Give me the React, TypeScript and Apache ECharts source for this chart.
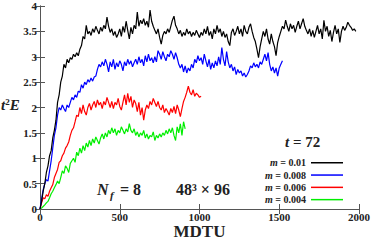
import React, { useEffect, useRef } from "react";
import * as echarts from "echarts";

const STEP = 10; // MDTU between measurements
const masses = ["0.01", "0.008", "0.006", "0.004"];
const colors = ["#000000", "#0000ff", "#ff0000", "#00ee00"];

const m001 = [
  0, 0.15, 0.35, 0.5, 0.72, 0.85, 1.05, 1.15, 1.4, 1.55,
  1.75, 2.1, 2.25, 2.5, 2.62, 2.85, 2.78, 2.95, 2.88, 2.98,
  2.95, 3.05, 3.0, 3.08, 3.02, 3.15, 3.22, 3.4, 3.35, 3.62,
  3.45, 3.5, 3.42, 3.55, 3.48, 3.6, 3.52, 3.45, 3.58, 3.5,
  3.62, 3.55, 3.78, 3.6, 3.48, 3.55, 3.42, 3.5, 3.38, 3.45,
  3.55, 3.4, 3.6, 3.48, 3.7, 3.52, 3.35, 3.58, 3.45, 3.62,
  3.55, 3.88, 3.6, 3.72, 3.65, 3.75, 3.62, 3.7, 3.58, 3.92,
  3.7, 3.6, 3.52, 3.45, 3.55, 3.38, 3.25, 3.42, 3.5, 3.45,
  3.55, 3.48, 3.6, 3.72, 3.8, 3.62, 3.55, 3.45, 3.52, 3.4,
  3.48, 3.42, 3.55, 3.45, 3.5, 3.4, 3.48, 3.42, 3.52, 3.45,
  3.38, 3.48, 3.42, 3.55, 3.45, 3.6, 3.42, 3.5, 3.35, 3.55,
  3.45, 3.62, 3.48, 3.55, 3.4, 3.5, 3.38, 3.45, 3.3, 3.22,
  3.48, 3.55, 3.42, 3.5, 3.6, 3.45, 3.55, 3.4, 3.62, 3.5,
  3.45, 3.58, 3.65, 3.5, 3.38, 3.3, 3.15, 2.98, 3.2, 3.35,
  3.5, 3.4, 3.55, 3.35, 3.25, 3.45, 3.3, 3.2, 3.02, 3.28,
  3.4, 3.5, 3.6, 3.55, 3.72, 3.6, 3.5, 3.65, 3.55, 3.62,
  3.48, 3.6, 3.7, 3.55, 3.65, 3.75, 3.6, 3.52, 3.45, 3.55,
  3.4, 3.52, 3.38, 3.5, 3.62, 3.45, 3.55, 3.35, 3.72, 3.5,
  3.6, 3.4, 3.52, 3.3, 3.48, 3.62, 3.45, 3.55, 3.28, 3.5,
  3.6, 3.52, 3.58, 3.68, 3.62, 3.58, 3.52, 3.55, 3.5,
];

const m0008 = [
  0, 0.2, 0.38, 0.5, 0.58, 0.55, 0.75, 0.95, 1.2, 1.45,
  1.6, 1.85, 2.0, 1.95, 2.05, 1.98, 1.92, 2.05, 2.0, 2.1,
  2.2, 2.15, 2.25, 2.2, 2.32, 2.3, 2.45, 2.38, 2.5, 2.45,
  2.55, 2.5, 2.58, 2.52, 2.6, 2.62, 2.75, 2.85, 2.8, 2.9,
  2.82, 2.95, 2.85, 2.7, 2.9, 2.8, 2.95, 2.75, 2.88, 2.8,
  2.92, 2.85, 2.72, 2.9, 2.82, 2.95, 2.85, 2.92, 2.8, 2.88,
  2.95, 2.85, 3.0, 2.88, 2.95, 2.82, 3.02, 2.9, 3.05, 2.92,
  2.98, 2.88, 3.0, 2.9, 3.12, 3.05, 2.95, 3.1, 3.0, 2.92,
  3.05, 3.0, 3.12, 3.05, 2.95, 3.08, 2.98, 2.85, 2.78, 2.85,
  2.7, 2.82, 2.68, 2.78, 2.72, 2.85, 2.78, 2.95, 2.88, 3.02,
  2.92, 2.98, 2.85, 3.05, 2.92, 2.8, 2.95, 2.75, 2.88, 2.78,
  2.92, 2.82, 3.0, 2.85, 3.18, 2.95, 2.82, 3.1, 2.9, 2.78,
  2.85, 2.72, 2.8, 2.65, 2.75, 2.68, 2.72, 2.62, 2.68, 2.6,
  2.65, 2.72, 2.82, 2.78, 2.88, 2.8, 2.85, 2.78, 2.9, 2.85,
  2.95, 3.05, 2.92, 3.08, 2.85, 2.72, 2.8, 2.68, 2.78, 2.62,
  2.78, 2.85, 2.92,
];

const m0006 = [
  0, 0.12, 0.22, 0.2, 0.28, 0.25, 0.35, 0.42, 0.48, 0.62,
  0.7, 0.78, 0.92, 0.95, 1.05, 1.1, 1.2, 1.25, 1.32, 1.45,
  1.55, 1.6, 1.72, 1.85, 1.82, 2.0, 1.88, 2.05, 1.92, 1.85,
  2.0, 2.08, 1.95, 2.05, 2.12, 2.0, 2.15, 2.05, 2.1, 1.98,
  2.12, 2.05, 2.2, 2.1, 2.0, 2.12, 1.98, 2.1, 2.05, 2.18,
  2.02, 1.95, 2.1, 2.25, 2.05, 2.28, 2.1, 2.22, 2.0, 2.15,
  2.08, 1.92, 2.1, 1.85, 2.0, 1.75, 1.95, 2.05, 1.98, 2.12,
  2.05, 2.18, 2.1, 2.02, 2.12, 2.0, 1.95, 2.05, 1.9, 1.98,
  1.92, 1.85, 1.98, 1.9, 2.02, 1.88, 2.05, 1.95, 1.82, 1.98,
  2.12, 2.2, 2.3, 2.42, 2.3, 2.25, 2.35, 2.22, 2.28, 2.25,
  2.2, 2.22,
];

const m0004 = [
  0, 0.02, 0.05, 0.08, 0.12, 0.15, 0.22, 0.3, 0.35, 0.42,
  0.48, 0.55, 0.5, 0.62, 0.75, 0.7, 0.85, 0.8, 0.72, 0.9,
  0.95, 1.0, 0.92, 1.12, 1.05, 1.2, 1.1, 1.25, 1.15, 1.3,
  1.22, 1.35, 1.25, 1.38, 1.3, 1.42, 1.35, 1.28, 1.4, 1.48,
  1.38, 1.5, 1.42, 1.55, 1.48, 1.6, 1.5, 1.58, 1.45, 1.55,
  1.5, 1.62, 1.55, 1.48, 1.58, 1.52, 1.68, 1.55, 1.5, 1.58,
  1.45, 1.52, 1.42, 1.5, 1.45, 1.55, 1.4, 1.48, 1.38, 1.45,
  1.42, 1.52, 1.35, 1.45, 1.4, 1.48, 1.42, 1.5, 1.45, 1.55,
  1.48, 1.58, 1.5, 1.6, 1.45, 1.35, 1.62, 1.5, 1.68, 1.45,
  1.72, 1.58,
];

const seriesValues = [m001, m0008, m0006, m0004];
const SERIF = "'Liberation Serif', 'DejaVu Serif', serif";

export default function App() {
  const ref = useRef<HTMLDivElement>(null);
  useEffect(() => {
    if (!ref.current) return;
    const chart = echarts.init(ref.current, null, { renderer: "svg" });
    const axisLine = { show: true, lineStyle: { color: "#555", width: 1 } };
    const tickCommon = { show: true, inside: true, length: 5, lineStyle: { color: "#555" } };
    const labelStyle = { fontFamily: SERIF, fontWeight: "bold" as const, fontSize: 11, color: "#222" };
    chart.setOption({
      animation: false,
      backgroundColor: "#fff",
      grid: { left: 40, right: 15, top: 6, bottom: 32, containLabel: false, outerBoundsMode: "none" },
      xAxis: [
        {
          type: "value", min: 0, max: 2000, interval: 500,
          axisLine, axisTick: tickCommon, splitLine: { show: false },
          axisLabel: { ...labelStyle, margin: 2, lineHeight: 11, formatter: (v: number) => String(v) },
        },
        {
          type: "value", min: 0, max: 2000, interval: 500, position: "top",
          axisLine, axisTick: tickCommon, splitLine: { show: false }, axisLabel: { show: false },
        },
      ],
      yAxis: [
        {
          type: "value", min: 0, max: 4, interval: 0.5,
          axisLine, axisTick: tickCommon, splitLine: { show: false },
          axisLabel: { ...labelStyle, margin: 3, formatter: (v: number) => String(v) },
        },
        {
          type: "value", min: 0, max: 4, interval: 0.5, position: "right",
          axisLine, axisTick: tickCommon, splitLine: { show: false }, axisLabel: { show: false },
        },
      ],
      legend: {
        orient: "vertical",
        right: 31,
        top: 157,
        padding: 0,
        align: "right",
        itemWidth: 32,
        itemHeight: 1.5,
        itemGap: 0.8,
        icon: "rect",
        data: masses.map((m, i) => ({ name: m, itemStyle: { color: colors[i] } })),
        formatter: (name: string) => `{i|m} = ${name}`,
        textStyle: {
          fontFamily: SERIF, fontWeight: "bold", fontSize: 10, color: "#222", lineHeight: 11.5,
          rich: { i: { fontStyle: "italic", fontFamily: SERIF, fontWeight: "bold", fontSize: 10, color: "#222" } },
        },
      },
      graphic: [
        {
          type: "text", x: 199.5, y: 231,
          style: {
            text: "MDTU", font: `bold 17px ${SERIF}`, fill: "#222",
            textAlign: "center", textVerticalAlign: "middle", lineHeight: 15,
          },
        },
        {
          type: "text", left: 1, top: 97,
          style: {
            text: "{i|t}{s|2}{i|E}",
            rich: {
              i: { fontFamily: SERIF, fontStyle: "italic", fontWeight: "bold", fontSize: 15, fill: "#222" },
              s: { fontFamily: SERIF, fontWeight: "bold", fontSize: 9, fill: "#222", verticalAlign: "top", padding: [0, 0, 6, 0] },
            },
          },
        },
        {
          type: "text", left: 285, top: 134,
          style: {
            text: "{i|t} = 72",
            font: `bold 15px ${SERIF}`, fill: "#222",
            rich: { i: { fontFamily: SERIF, fontStyle: "italic", fontWeight: "bold", fontSize: 15, fill: "#222" } },
          },
        },
        {
          type: "text", left: 97, top: 181,
          style: { text: "N", font: `italic bold 16px ${SERIF}`, fill: "#222" },
        },
        {
          type: "text", left: 110, top: 189,
          style: { text: "f", font: `italic bold 11px ${SERIF}`, fill: "#222" },
        },
        {
          type: "text", left: 120, top: 181,
          style: { text: "= 8", font: `bold 16px ${SERIF}`, fill: "#222" },
        },
        {
          type: "text", left: 176, top: 181,
          style: { text: "48³ × 96", font: `bold 16px ${SERIF}`, fill: "#222" },
        },
      ],
      series: seriesValues.map((vals, i) => ({
        name: masses[i],
        type: "line",
        xAxisIndex: 0,
        yAxisIndex: 0,
        data: vals.map((v, k) => [k * STEP, v]),
        showSymbol: false,
        symbol: "none",
        lineStyle: { color: colors[i], width: 1.2 },
        itemStyle: { color: colors[i] },
        z: 10 - i,
      })),
    });
    return () => chart.dispose();
  }, []);
  return <div ref={ref} style={{ width: 374, height: 241, position: "absolute", left: 0, top: 0 }} />;
}
